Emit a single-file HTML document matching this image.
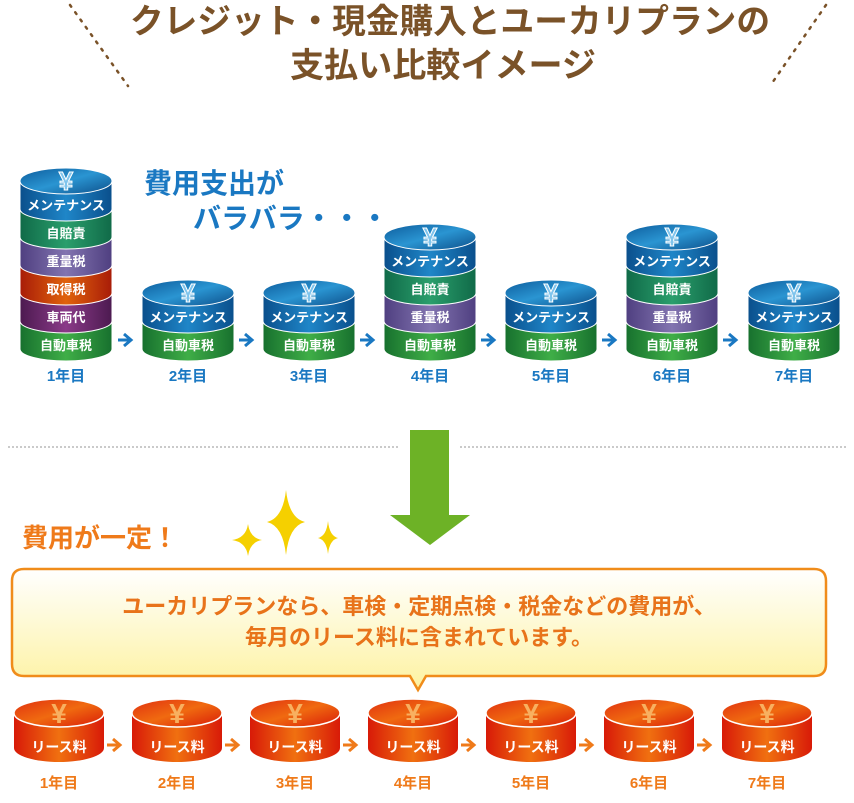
<!DOCTYPE html>
<html><head><meta charset="utf-8">
<style>
html,body{margin:0;padding:0;background:#fff;}
svg{display:block;}
text{font-family:"Liberation Sans","Noto Sans CJK JP",sans-serif;font-weight:bold;}
</style></head><body>
<svg width="854" height="803" viewBox="0 0 854 803" xmlns="http://www.w3.org/2000/svg">
<defs>
<linearGradient id="gBlue" x1="0" x2="1"><stop offset="0" stop-color="#0a4f8c"/><stop offset=".5" stop-color="#1f86c8"/><stop offset="1" stop-color="#0a4f8c"/></linearGradient>
<linearGradient id="gTop" x1="0" y1="0" x2="1" y2="1"><stop offset="0" stop-color="#0d5c9c"/><stop offset=".5" stop-color="#2a95d2"/><stop offset="1" stop-color="#0d4f8a"/></linearGradient>
<linearGradient id="gGreen" x1="0" x2="1"><stop offset="0" stop-color="#17702e"/><stop offset=".5" stop-color="#3fae47"/><stop offset="1" stop-color="#17702e"/></linearGradient>
<linearGradient id="gTeal" x1="0" x2="1"><stop offset="0" stop-color="#106a48"/><stop offset=".5" stop-color="#2a9e6c"/><stop offset="1" stop-color="#106a48"/></linearGradient>
<linearGradient id="gPurple" x1="0" x2="1"><stop offset="0" stop-color="#4f3f80"/><stop offset=".5" stop-color="#8274b0"/><stop offset="1" stop-color="#4f3f80"/></linearGradient>
<linearGradient id="gRed" x1="0" x2="1"><stop offset="0" stop-color="#a81c08"/><stop offset=".5" stop-color="#e0620c"/><stop offset="1" stop-color="#a81c08"/></linearGradient>
<linearGradient id="gViolet" x1="0" x2="1"><stop offset="0" stop-color="#4c1a50"/><stop offset=".5" stop-color="#8a3a88"/><stop offset="1" stop-color="#4c1a50"/></linearGradient>
<linearGradient id="gOr" x1="0" x2="1"><stop offset="0" stop-color="#d81a08"/><stop offset=".5" stop-color="#f07010"/><stop offset="1" stop-color="#d81a08"/></linearGradient>
<linearGradient id="gOrTop" x1="0" y1="0" x2="1" y2="1"><stop offset="0" stop-color="#e03010"/><stop offset=".5" stop-color="#f06a10"/><stop offset="1" stop-color="#d81a08"/></linearGradient>
<linearGradient id="gBox" x1="0" y1="0" x2="0" y2="1"><stop offset="0" stop-color="#ffffff"/><stop offset="1" stop-color="#fdf2a0"/></linearGradient>
<g id="topc"><ellipse cx="0" cy="0" rx="46" ry="13" fill="url(#gTop)" stroke="#fff" stroke-width="1"/><text x="0" y="9" font-size="26" fill="#7fc4ec" text-anchor="middle">¥</text></g>
<g id="otop"><ellipse cx="0" cy="0" rx="45" ry="14" fill="url(#gOrTop)" stroke="#fff" stroke-width="1.5"/><text x="0" y="10" font-size="28" fill="#f8b060" text-anchor="middle">¥</text></g>
<path id="barr" d="M0,0 H12 M6,-6 L13,0 L6,6" fill="none" stroke="#1a78c2" stroke-width="3"/>
<path id="oarr" d="M0,0 H12 M6,-6 L13,0 L6,6" fill="none" stroke="#ef7a1a" stroke-width="3"/>
</defs>

<!-- title -->
<text x="130" y="33" font-size="34" fill="#7a5228" textLength="640" lengthAdjust="spacingAndGlyphs">クレジット・現金購入とユーカリプランの</text>
<text x="290" y="77" font-size="34" fill="#7a5228" textLength="306" lengthAdjust="spacingAndGlyphs">支払い比較イメージ</text>
<line x1="70" y1="5" x2="128" y2="86" stroke="#7a5228" stroke-width="2.5" stroke-dasharray="2,7" stroke-linecap="round"/>
<line x1="826" y1="5" x2="770" y2="86" stroke="#7a5228" stroke-width="2.5" stroke-dasharray="2,7" stroke-linecap="round"/>

<text x="144" y="193" font-size="28" fill="#1a78c2">費用支出が</text>
<text x="193" y="228" font-size="28" fill="#1a78c2">バラバラ・・・</text>

<g font-size="13" fill="#fff" text-anchor="middle">
<g transform="translate(66,0)" stroke="#fff" stroke-width="1">
<path d="M-46,321V349A46,12 0 0 0 46,349V321Z" fill="url(#gGreen)"/>
<path d="M-46,293V321A46,12 0 0 0 46,321V293Z" fill="url(#gViolet)"/>
<path d="M-46,265V293A46,12 0 0 0 46,293V265Z" fill="url(#gRed)"/>
<path d="M-46,237V265A46,12 0 0 0 46,265V237Z" fill="url(#gPurple)"/>
<path d="M-46,209V237A46,12 0 0 0 46,237V209Z" fill="url(#gTeal)"/>
<path d="M-46,181V209A46,12 0 0 0 46,209V181Z" fill="url(#gBlue)"/>
<use href="#topc" y="181"/>
<g stroke="none"><text y="210">メンテナンス</text><text y="238">自賠責</text><text y="266">重量税</text><text y="294">取得税</text><text y="322">車両代</text><text y="350">自動車税</text></g>
</g>
<g id="s2" stroke="#fff" stroke-width="1" transform="translate(188,0)">
<path d="M-46,321V349A46,12 0 0 0 46,349V321Z" fill="url(#gGreen)"/>
<path d="M-46,293V321A46,12 0 0 0 46,321V293Z" fill="url(#gBlue)"/>
<use href="#topc" y="293"/>
<g stroke="none"><text y="322">メンテナンス</text><text y="350">自動車税</text></g>
</g>
<use href="#s2" transform="translate(121,0)"/>
<use href="#s2" transform="translate(363,0)"/>
<use href="#s2" transform="translate(606,0)"/>
<g id="s4" stroke="#fff" stroke-width="1" transform="translate(430,0)">
<path d="M-46,321V349A46,12 0 0 0 46,349V321Z" fill="url(#gGreen)"/>
<path d="M-46,293V321A46,12 0 0 0 46,321V293Z" fill="url(#gPurple)"/>
<path d="M-46,265V293A46,12 0 0 0 46,293V265Z" fill="url(#gTeal)"/>
<path d="M-46,237V265A46,12 0 0 0 46,265V237Z" fill="url(#gBlue)"/>
<use href="#topc" y="237"/>
<g stroke="none"><text y="266">メンテナンス</text><text y="294">自賠責</text><text y="322">重量税</text><text y="350">自動車税</text></g>
</g>
<use href="#s4" transform="translate(242,0)"/>
</g>

<g>
<use href="#barr" x="118" y="340"/><use href="#barr" x="239" y="340"/><use href="#barr" x="360" y="340"/><use href="#barr" x="481" y="340"/><use href="#barr" x="602" y="340"/><use href="#barr" x="723" y="340"/>
</g>
<g font-size="15" fill="#1a78c2" text-anchor="middle">
<text x="66" y="381">1年目</text><text x="188" y="381">2年目</text><text x="309" y="381">3年目</text><text x="430" y="381">4年目</text><text x="551" y="381">5年目</text><text x="672" y="381">6年目</text><text x="794" y="381">7年目</text>
</g>

<line x1="8" y1="447" x2="846" y2="447" stroke="#b8b8b8" stroke-width="1.5" stroke-dasharray="2,2"/>
<rect x="400" y="432" width="60" height="30" fill="#fff"/>
<path d="M410,430H449V515H470L430,545L390,515H410Z" fill="#6db226"/>

<text x="22" y="547" font-size="26" fill="#ef7a1a">費用が一定！</text>
<path d="M286,490 Q289,518 305,522 Q289,526 286,555 Q283,526 267,522 Q283,518 286,490Z" fill="#f5d000"/>
<path d="M248,524 Q250,538 262,540 Q250,542 248,556 Q246,542 232,540 Q246,538 248,524Z" fill="#f5d000"/>
<path d="M328,521 Q329.5,536 338,538 Q329.5,540 328,554 Q326.5,540 318,538 Q326.5,536 328,521Z" fill="#f5d000"/>

<path d="M24,569H814Q826,569 826,581V664Q826,676 814,676H426L418,690L410,676H24Q12,676 12,664V581Q12,569 24,569Z" fill="url(#gBox)" stroke="#f08c1a" stroke-width="2.5"/>
<g font-size="22" fill="#e8731a" text-anchor="middle">
<text x="419" y="614">ユーカリプランなら、車検・定期点検・税金などの費用が、</text>
<text x="419" y="645">毎月のリース料に含まれています。</text>
</g>

<g id="oc" transform="translate(59,0)">
<path d="M-45,713V748A45,14 0 0 0 45,748V713Z" fill="url(#gOr)"/>
<use href="#otop" y="713"/>
<text y="752" font-size="14" fill="#fff" text-anchor="middle">リース料</text>
</g>
<use href="#oc" transform="translate(118,0)"/><use href="#oc" transform="translate(236,0)"/><use href="#oc" transform="translate(354,0)"/><use href="#oc" transform="translate(472,0)"/><use href="#oc" transform="translate(590,0)"/><use href="#oc" transform="translate(708,0)"/>
<use href="#oarr" x="107" y="745"/><use href="#oarr" x="225" y="745"/><use href="#oarr" x="343" y="745"/><use href="#oarr" x="461" y="745"/><use href="#oarr" x="579" y="745"/><use href="#oarr" x="697" y="745"/>
<g font-size="15" fill="#ef7a1a" text-anchor="middle">
<text x="59" y="788">1年目</text><text x="177" y="788">2年目</text><text x="295" y="788">3年目</text><text x="413" y="788">4年目</text><text x="531" y="788">5年目</text><text x="649" y="788">6年目</text><text x="767" y="788">7年目</text>
</g>
</svg>
</body></html>
